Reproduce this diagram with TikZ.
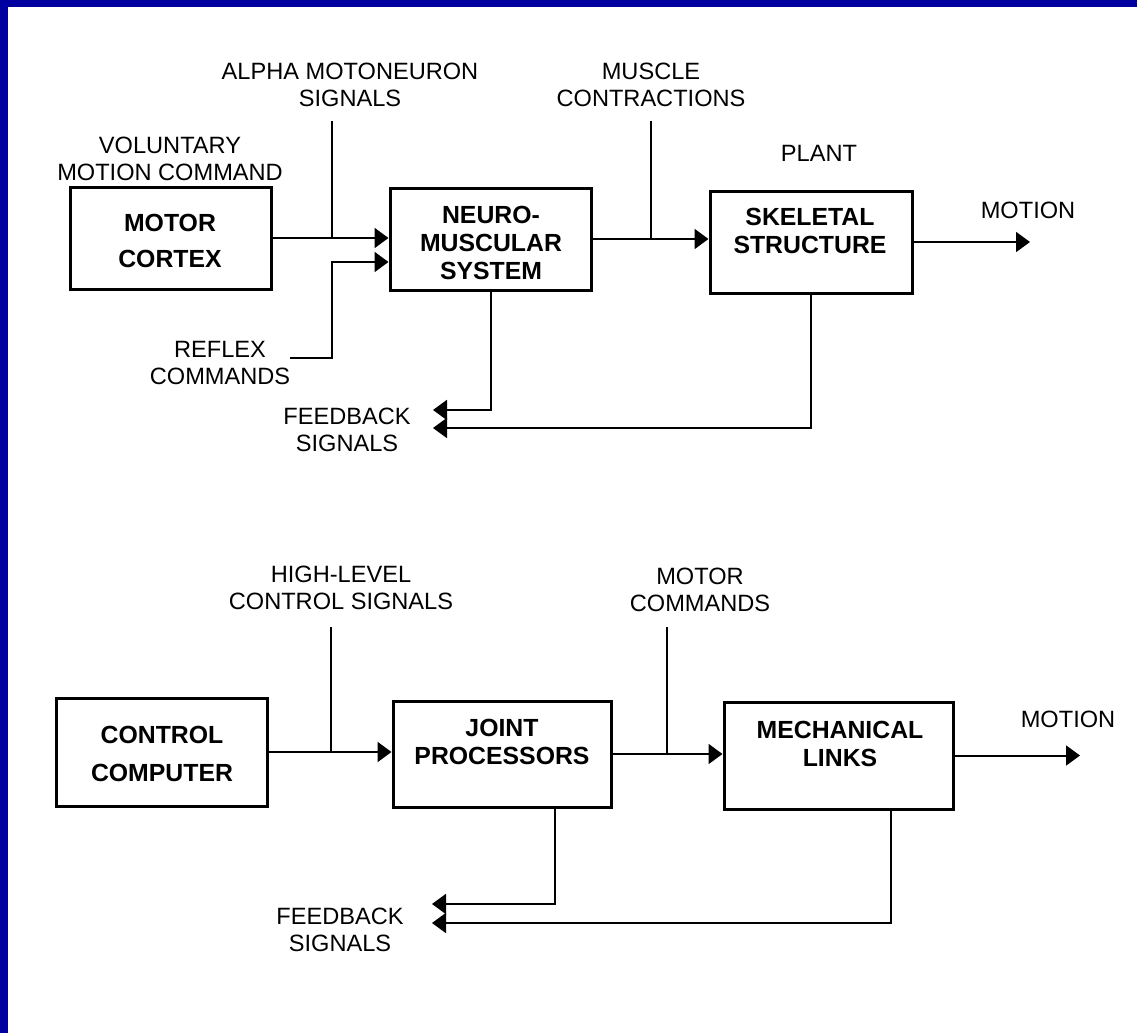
\documentclass[tikz,border=0pt]{standalone}
\usepackage{fontspec}
\setmainfont{Liberation Sans}
\usetikzlibrary{arrows.meta,calc}

\definecolor{framebg}{RGB}{0,0,160}

\tikzset{
  blockbox/.style={draw=black,line width=1.5pt,rectangle,inner sep=0pt},
  blocktext/.style={align=center,inner sep=0pt,font=\fontsize{12.4}{14}\selectfont\bfseries},
  sigtext/.style={align=center,inner sep=0pt,font=\fontsize{11.8}{13.5}\selectfont}
}

\begin{document}
\begin{tikzpicture}[x=0.5pt,y=-0.5pt]
\useasboundingbox (0,0) rectangle (1137,1033);
\fill[white] (0,0) rectangle (1137,1033);
\fill[framebg] (0,0) rectangle (1137,7);
\fill[framebg] (0,0) rectangle (8,1033);

% blocks
\begin{scope}[every node/.style={blockbox}]
\node[minimum width=100.5pt,minimum height=51pt] (cortex) at (170.5,238) {};
\node[minimum width=100.5pt,minimum height=51pt] (neuro) at (490.5,239) {};
\node[minimum width=101pt,minimum height=51pt] (skel) at (811,242) {};
\node[minimum width=105.5pt,minimum height=54pt] (comp) at (161.5,752) {};
\node[minimum width=109pt,minimum height=53pt] (joint) at (502,754) {};
\node[minimum width=114.5pt,minimum height=53.5pt] (mech) at (838.5,755.5) {};
\end{scope}

\begin{scope}[every node/.style={blocktext}]
\node (cortextext) at (170,241) {MOTOR\\[4pt]CORTEX};
\node (neurotext) at (491,243) {NEURO-\\MUSCULAR\\SYSTEM};
\node (skeltext) at (810,230.5) {SKELETAL\\STRUCTURE};
\node (comptext) at (162,754) {CONTROL\\[5pt]COMPUTER};
\node (jointtext) at (502,742) {JOINT\\PROCESSORS};
\node (mechtext) at (840,743.5) {MECHANICAL\\LINKS};
\end{scope}

% signal labels
\begin{scope}[every node/.style={sigtext}]
\node (voluntary) at (170,159) {VOLUNTARY\\MOTION COMMAND};
\node (alpha) at (350,85) {ALPHA MOTONEURON\\SIGNALS};
\node (muscle) at (651,85) {MUSCLE\\CONTRACTIONS};
\node (plant) at (819,153) {PLANT};
\node (motiontop) at (1028,210) {MOTION};
\node (reflex) at (220,363) {REFLEX\\COMMANDS};
\node (feedbacktop) at (347,430) {FEEDBACK\\SIGNALS};
\node (highlevel) at (341,588) {HIGH-LEVEL\\CONTROL SIGNALS};
\node (motorcmd) at (700,590) {MOTOR\\COMMANDS};
\node (motionbot) at (1068,719) {MOTION};
\node (feedbackbot) at (340,929.5) {FEEDBACK\\SIGNALS};
\end{scope}

% free ends
\coordinate (alphaend) at (332,121);
\coordinate (muscleend) at (651,121);
\coordinate (reflexend) at (290,358);
\coordinate (reflexjoin) at (332,262);
\coordinate (motionendtop) at (1030,242);
\coordinate (fbtop1) at (433,410);
\coordinate (fbtop2) at (433,428);
\coordinate (highend) at (331,627);
\coordinate (cmdend) at (667,627);
\coordinate (motionendbot) at (1080,755.5);
\coordinate (fbbot1) at (432,904);
\coordinate (fbbot2) at (432,923);

\begin{scope}[>={Triangle[length=7pt,width=10pt]},line width=1pt]
% upper loop
\draw[->] (cortex.east) -- (cortex.east -| neuro.west);
\draw (alphaend) -- (alphaend |- cortex.east);
\draw[->] (reflexend) -| (reflexjoin) -- (reflexjoin -| neuro.west);
\draw[->] (neuro.east) -- (neuro.east -| skel.west);
\draw (muscleend) -- (muscleend |- neuro.east);
\draw[->] (skel.east) -- (motionendtop);
\draw[->] (neuro.south) |- (fbtop1);
\draw[->] (skel.south) |- (fbtop2);
% lower loop
\draw[->] (comp.east) -- (comp.east -| joint.west);
\draw (highend) -- (highend |- comp.east);
\draw[->] (joint.east) -- (joint.east -| mech.west);
\draw (cmdend) -- (cmdend |- joint.east);
\draw[->] (mech.east) -- (motionendbot);
\draw[->] ($(joint.south)+(53,0)$) |- (fbbot1);
\draw[->] ($(mech.south)+(52.5,0)$) |- (fbbot2);
\end{scope}
\end{tikzpicture}
\end{document}
